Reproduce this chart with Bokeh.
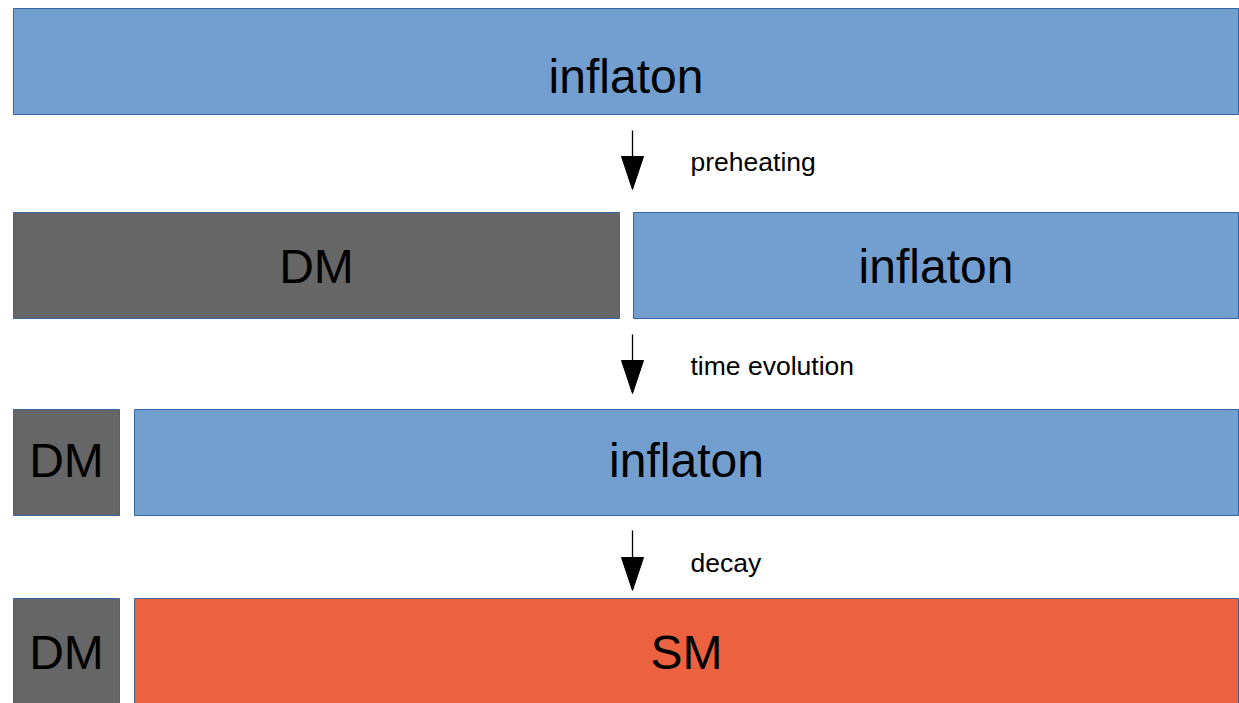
from bokeh.plotting import figure
from bokeh.models import Range1d, ColumnDataSource
from bokeh.core.properties import value
from bokeh.embed import file_html
from bokeh.resources import INLINE

# ---- diagram content ----
box_labels = ["inflaton", "DM", "inflaton", "DM", "inflaton", "DM", "SM"]
box_kind = ["inflaton", "dm", "inflaton", "dm", "inflaton", "dm", "sm"]

# ---- layout (pixel-like units, y grows downward) ----
box_left = [13, 13, 633, 13, 134, 13, 134]
box_right = [1238, 619, 1238, 119, 1238, 119, 1238]
box_top = [8, 212, 212, 409, 409, 598, 598]
box_bottom = [114, 318, 318, 515, 515, 712, 712]
label_baseline = [76, 266, 266, 460, 460, 652, 652]

step_labels = ["preheating", "time evolution", "decay"]
arrow_x = 632
arrow_start = [130, 334, 530]
arrow_tip = [189, 393, 590]
step_label_x = 690
step_label_baseline = [161, 365, 562]
head_len = 33
head_w = 22

colors = {"inflaton": "#729fcf", "dm": "#666666", "sm": "#ec6140"}
border = "#3465a4"
FONT = value("Liberation Sans")

W, H = 1239, 703
p = figure(width=W, height=H, output_backend="svg", toolbar_location=None,
           x_range=Range1d(0, W), y_range=Range1d(H, 0),
           min_border=0, outline_line_color=None)
p.axis.visible = False
p.grid.visible = False
p.background_fill_color = "white"
p.border_fill_color = "white"

src = ColumnDataSource(dict(
    left=box_left, right=box_right, top=box_top, bottom=box_bottom,
    fill=[colors[k] for k in box_kind], label=box_labels,
    cx=[(l + r) / 2 for l, r in zip(box_left, box_right)],
    ty=label_baseline,
))
p.quad(left="left", right="right", top="top", bottom="bottom", source=src,
       fill_color="fill", line_color=border, line_width=1)
p.text(x="cx", y="ty", text="label", source=src, text_font=FONT,
       text_font_size="48px", text_align="center",
       text_baseline="alphabetic", text_color="black")

# arrows
head_base = [t - head_len for t in arrow_tip]
p.segment(x0=[arrow_x] * 3, y0=arrow_start, x1=[arrow_x] * 3, y1=head_base,
          line_color="black", line_width=1.3)
p.patches(xs=[[arrow_x - head_w / 2, arrow_x + head_w / 2, arrow_x] for _ in arrow_tip],
          ys=[[b, b, t] for b, t in zip(head_base, arrow_tip)],
          fill_color="black", line_color="black", line_width=1)
p.text(x=[step_label_x] * 3, y=step_label_baseline, text=step_labels,
       text_font=FONT, text_font_size="26.5px", text_align="left",
       text_baseline="alphabetic", text_color="black")

open("out.html", "w").write(file_html(p, INLINE))
